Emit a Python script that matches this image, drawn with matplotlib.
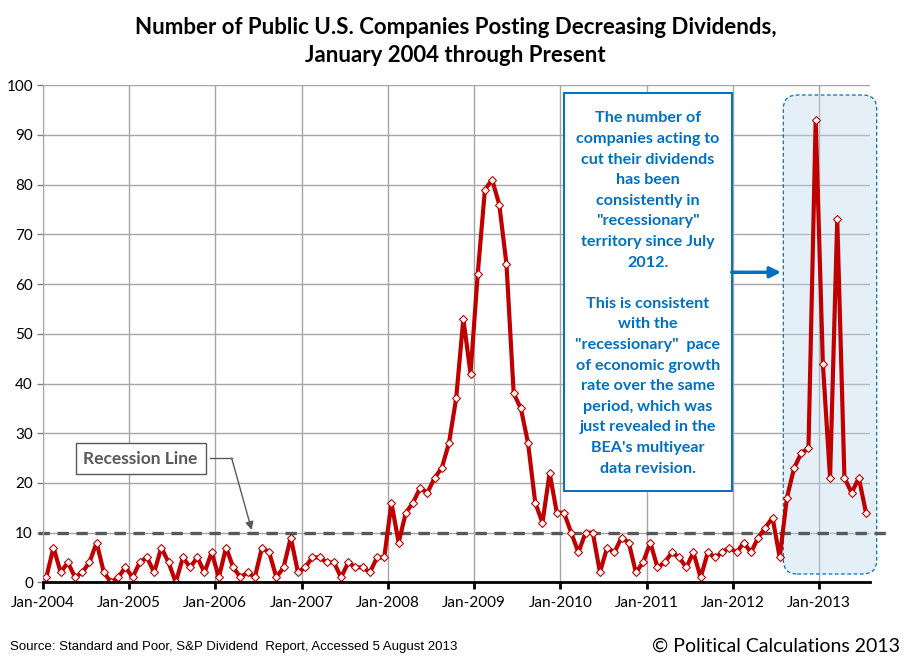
import matplotlib.pyplot as plt
from matplotlib.patches import FancyBboxPatch, Rectangle
from matplotlib.transforms import IdentityTransform
import numpy as np

plt.rcParams['font.family'] = ['Lato', 'DejaVu Sans']

# monthly counts, Jan 2004 .. Jul 2013
y2004 = [1, 7, 2, 4, 1, 2, 4, 8, 2, 0, 1, 3]
y2005 = [1, 4, 5, 2, 7, 4, 0, 5, 3, 5, 2, 6]
y2006 = [1, 7, 3, 1, 2, 1, 7, 6, 1, 3, 9, 2]
y2007 = [3, 5, 5, 4, 4, 1, 4, 3, 3, 2, 5, 5]
y2008 = [16, 8, 14, 16, 19, 18, 21, 23, 28, 37, 53, 42]
y2009 = [62, 79, 81, 76, 64, 38, 35, 28, 16, 12, 22, 14]
y2010 = [14, 10, 6, 10, 10, 2, 7, 6, 9, 8, 2, 4]
y2011 = [8, 3, 4, 6, 5, 3, 6, 1, 6, 5, 6, 7]
y2012 = [6, 8, 6, 9, 11, 13, 5, 17, 23, 26, 27, 93]
y2013 = [44, 21, 73, 21, 18, 21, 14]
years = list(range(2004, 2014))
year_labels = ['Jan-%d' % y for y in years]
recession_level = 10

counts = y2004 + y2005 + y2006 + y2007 + y2008 + y2009 + y2010 + y2011 + y2012 + y2013
x = np.arange(len(counts)) + 0.5

W, H = 911, 662
fig = plt.figure(figsize=(W / 100, H / 100), dpi=100)
ax = fig.add_axes([42.7 / W, 1 - 582.3 / H, (869.6 - 42.7) / W, (582.3 - 85.3) / H])

def px(xp, yp):
    # image pixel (from top) -> display pixel
    return xp, H - yp

grid_c = '#A6A6A6'
ax.set_xlim(0, len(counts))
ax.set_ylim(0, 100)
ax.set_yticks(range(0, 101, 10))
ax.set_xticks(np.arange(len(years)) * 12)
ax.set_xticklabels(year_labels)
ax.grid(True, color=grid_c, linewidth=1)
ax.set_axisbelow(True)
for s in ['top', 'right']:
    ax.spines[s].set_visible(False)
ax.spines['left'].set_color(grid_c)
ax.spines['bottom'].set_color('black')
ax.spines['bottom'].set_linewidth(2)
ax.spines['bottom'].set_zorder(5)
ax.tick_params(axis='x', length=5, width=2, color='black', labelsize=11, pad=5)
ax.tick_params(axis='y', length=4, width=1, color='#808080', labelsize=11, pad=3)

# highlight region
hl = FancyBboxPatch(px(783.3, 574), 876.7 - 783.3, 574 - 95,
                    boxstyle='round,pad=0,rounding_size=14',
                    transform=IdentityTransform(), facecolor='#BDD7EE', alpha=0.4,
                    edgecolor='none', zorder=1, clip_on=False)
ax.add_patch(hl)
hl_edge = FancyBboxPatch(px(783.3, 574), 876.7 - 783.3, 574 - 95,
                         boxstyle='round,pad=0,rounding_size=14',
                         transform=IdentityTransform(), facecolor='none',
                         edgecolor='#0070C0', linestyle=(0, (3, 2)), linewidth=0.9,
                         zorder=1.1, clip_on=False)
ax.add_patch(hl_edge)

ax.axhline(recession_level, xmin=-0.006, xmax=1.025, color='#595959', linewidth=2.4,
           dashes=(3.4, 2.3), clip_on=False, zorder=2)

ax.plot(x, counts, color='#C00000', linewidth=3, marker='D', markersize=4.5,
        markerfacecolor='white', markeredgecolor='#C00000', markeredgewidth=0.8, zorder=3)

# title
fig.text(0.5, 1 - 28 / H, 'Number of Public U.S. Companies Posting Decreasing Dividends,',
         ha='center', va='center', fontsize=16, fontweight='bold')
fig.text(0.5, 1 - 56 / H, 'January 2004 through Present',
         ha='center', va='center', fontsize=16, fontweight='bold')

# recession line label
fig.text(140.5 / W, 1 - 458.5 / H, 'Recession Line', ha='center', va='center',
         fontsize=12.5, fontweight='bold', color='#595959',
         bbox=dict(boxstyle='square,pad=0.45', facecolor='white', edgecolor='#595959', linewidth=1))
fig.add_artist(plt.Line2D([210.3 / W, 231.7 / W], [1 - 458.3 / H, 1 - 458.3 / H],
                          color='#595959', linewidth=1))
ax.annotate('', xy=px(251.7, 530), xytext=px(231.7, 458.3),
            xycoords=IdentityTransform(), textcoords=IdentityTransform(),
            arrowprops=dict(arrowstyle='-|>', color='#595959', linewidth=1,
                            mutation_scale=12, shrinkA=0, shrinkB=0), zorder=6)

# commentary box
note = ('The number of\ncompanies acting to\ncut their dividends\nhas been\nconsistently in\n'
        '"recessionary"\nterritory since July\n2012.\n\nThis is consistent\nwith the\n'
        '"recessionary"  pace\nof economic growth\nrate over the same\nperiod, which was\n'
        'just revealed in the\nBEA\'s multiyear\ndata revision.')
ax.add_patch(Rectangle(px(564.3, 491), 731.7 - 564.3, 491 - 93.3, transform=IdentityTransform(),
                       facecolor='white', edgecolor='#0070C0', linewidth=1.4, zorder=6,
                       clip_on=False))
fig.text(648 / W, 1 - 293.5 / H, note, ha='center', va='center', fontsize=11.6,
         fontweight='bold', color='#0070C0', linespacing=1.6, zorder=7)
ax.annotate('', xy=px(781, 272.3), xytext=px(731.7, 272.3),
            xycoords=IdentityTransform(), textcoords=IdentityTransform(),
            arrowprops=dict(arrowstyle='-|>', color='#0070C0', linewidth=2.5,
                            mutation_scale=16, shrinkA=0, shrinkB=0), zorder=6)

fig.text(10.5 / W, 1 - 647 / H, 'Source: Standard and Poor, S&P Dividend  Report, Accessed 5 August 2013',
         ha='left', va='center', fontsize=9.5, family='Liberation Sans')
fig.text(900 / W, 1 - 646 / H, '\u00a9 Political Calculations 2013', ha='right', va='center',
         fontsize=14)

fig.savefig('out.png', dpi=100)
